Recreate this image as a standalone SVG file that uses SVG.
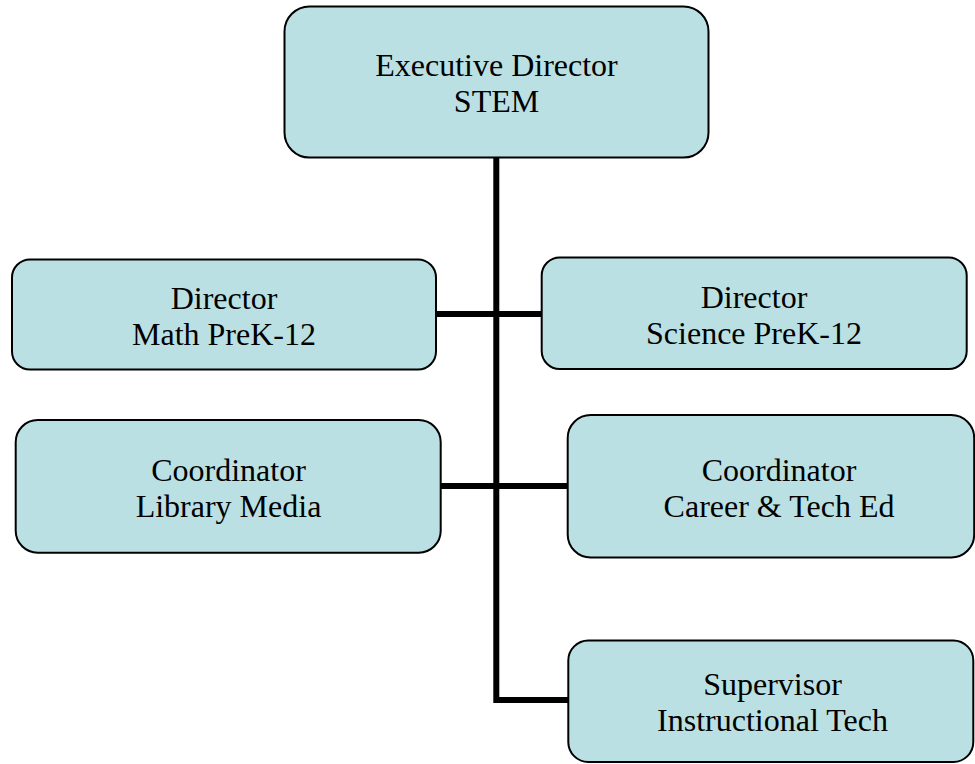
<svg xmlns="http://www.w3.org/2000/svg" width="975" height="764" viewBox="0 0 975 764">
<style>
.box{fill:#BAE0E3;stroke:#000;stroke-width:2}
.lbl{font-family:"Liberation Serif","Times New Roman",serif;font-size:32px;fill:#000;text-anchor:middle}
.conn{fill:none;stroke:#000;stroke-width:6;stroke-linejoin:miter}
</style>
<rect width="975" height="764" fill="#fff"/>
<g id="connectors">
<path class="conn" d="M496.3,157 V700 H568.3"/>
<path class="conn" d="M436,314 H541.7"/>
<path class="conn" d="M440.7,486 H567.7"/>
</g>
<g id="exec">
<rect class="box" x="284.5" y="6.5" width="424" height="151" rx="25" ry="25"/>
<text class="lbl" x="496.5" y="76">Executive Director</text>
<text class="lbl" x="496.5" y="112">STEM</text>
</g>
<g id="math">
<rect class="box" x="12" y="259.5" width="424" height="110" rx="18" ry="18"/>
<text class="lbl" x="224" y="308.5">Director</text>
<text class="lbl" x="224" y="345">Math PreK-12</text>
</g>
<g id="science">
<rect class="box" x="541.7" y="257.5" width="425" height="111.5" rx="18" ry="18"/>
<text class="lbl" x="754" y="307.5">Director</text>
<text class="lbl" x="754" y="343.5">Science PreK-12</text>
</g>
<g id="library">
<rect class="box" x="15.7" y="420" width="425" height="132.7" rx="22" ry="22"/>
<text class="lbl" x="228.5" y="480.5">Coordinator</text>
<text class="lbl" x="228.5" y="516.5">Library Media</text>
</g>
<g id="career">
<rect class="box" x="567.7" y="415" width="406.5" height="142.5" rx="23" ry="23"/>
<text class="lbl" x="779" y="480.5">Coordinator</text>
<text class="lbl" x="779" y="516.5">Career &amp; Tech Ed</text>
</g>
<g id="supervisor">
<rect class="box" x="568.3" y="640.5" width="405" height="121.5" rx="20" ry="20"/>
<text class="lbl" x="772.5" y="695">Supervisor</text>
<text class="lbl" x="772.5" y="731">Instructional Tech</text>
</g>
</svg>
